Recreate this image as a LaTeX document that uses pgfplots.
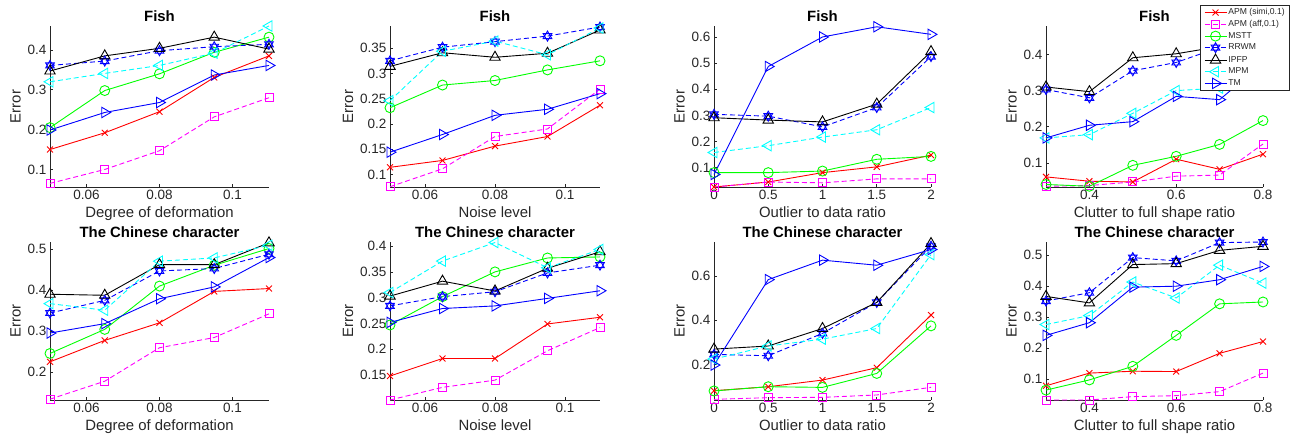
\documentclass[border=0pt]{standalone}
\usepackage{fontspec}
\setmainfont{Liberation Sans}
\usepackage{pgfplots}
\usepackage{pgfplotstable}
\pgfplotsset{compat=1.18}

\definecolor{mred}{rgb}{1,0,0}
\definecolor{mmag}{rgb}{1,0,1}
\definecolor{mgreen}{rgb}{0,1,0}
\definecolor{mblue}{rgb}{0,0,1}
\definecolor{mcyan}{rgb}{0,1,1}
\definecolor{axgray}{rgb}{0.15,0.15,0.15}

\pgfdeclareplotmark{hexagram}{%
  \pgfpathmoveto{\pgfpointpolar{90}{\pgfplotmarksize}}%
  \pgfpathlineto{\pgfpointpolar{210}{\pgfplotmarksize}}%
  \pgfpathlineto{\pgfpointpolar{330}{\pgfplotmarksize}}%
  \pgfpathclose
  \pgfpathmoveto{\pgfpointpolar{270}{\pgfplotmarksize}}%
  \pgfpathlineto{\pgfpointpolar{30}{\pgfplotmarksize}}%
  \pgfpathlineto{\pgfpointpolar{150}{\pgfplotmarksize}}%
  \pgfpathclose
  \pgfusepathqstroke
}

\pgfplotsset{
  myaxis/.style={
    scale only axis,
    axis x line=bottom, axis y line=left,
    axis line style={-, axgray, line width=0.6pt},
    tick align=inside, major tick length=3pt,
    tick style={axgray, line width=0.6pt},
    xticklabel style={font=\fontsize{13.5}{14}\selectfont, text=axgray},
    yticklabel style={font=\fontsize{13.5}{14}\selectfont, text=axgray},
    label style={font=\fontsize{14.9}{16}\selectfont, text=axgray},
    title style={font=\bfseries\fontsize{14.9}{16}\selectfont, text=black, yshift=-5pt},
    clip=false, scaled ticks=false,
    ylabel={Error},
  },
  apms/.style={color=mred, solid, line width=0.9pt, mark=x, mark size=4.2pt, mark options={solid}},
  apma/.style={color=mmag, dash pattern=on 5pt off 3pt, line width=0.9pt, mark=square, mark size=4pt, mark options={solid}},
  mstt/.style={color=mgreen, solid, line width=0.9pt, mark=o, mark size=5pt, mark options={solid}},
  rrwm/.style={color=mblue, dash pattern=on 5pt off 3pt, line width=0.9pt, mark=hexagram, mark size=5pt, mark options={solid}},
  ipfp/.style={color=black, solid, line width=0.9pt, mark=triangle, mark size=6pt, mark options={solid}},
  mpm/.style={color=mcyan, dash pattern=on 5pt off 3pt, line width=0.9pt, mark=triangle, mark size=6pt, mark options={solid, rotate=90}},
  tm/.style={color=mblue, solid, line width=0.9pt, mark=triangle, mark size=6pt, mark options={solid, rotate=-90}},
}

\newcommand\allseries[1]{%
  \addplot[apms] table[x=x,y=R]{#1};
  \addplot[apma] table[x=x,y=M]{#1};
  \addplot[mstt] table[x=x,y=G]{#1};
  \addplot[rrwm] table[x=x,y=S]{#1};
  \addplot[ipfp] table[x=x,y=K]{#1};
  \addplot[mpm] table[x=x,y=C]{#1};
  \addplot[tm] table[x=x,y=T]{#1};
}

% Fish, degree of deformation
\pgfplotstableread{
x     R      M      G      S      K      C      T
0.05  0.150  0.065  0.205  0.361  0.347  0.320  0.199
0.065 0.192  0.100  0.298  0.372  0.385  0.341  0.243
0.08  0.245  0.147  0.340  0.398  0.404  0.361  0.268
0.095 0.331  0.232  0.394  0.408  0.432  0.392  0.337
0.11  0.385  0.280  0.432  0.414  0.402  0.460  0.361
}\tA
% Fish, noise level
\pgfplotstableread{
x     R      M      G      S      K      C      T
0.05  0.114  0.0755 0.232  0.325  0.314  0.246  0.144
0.065 0.1276 0.111  0.277  0.352  0.341  0.344  0.179
0.08  0.156  0.175  0.286  0.363  0.332  0.364  0.217
0.095 0.175  0.190  0.307  0.374  0.340  0.337  0.229
0.11  0.237  0.269  0.325  0.392  0.386  0.390  0.260
}\tB
% Fish, outlier ratio
\pgfplotstableread{
x     R      M      G      S      K      C      T
0     0.026  0.026  0.081  0.304  0.291  0.158  0.074
0.5   0.045  0.045  0.081  0.297  0.282  0.184  0.487
1     0.081  0.042  0.087  0.256  0.275  0.217  0.600
1.5   0.103  0.057  0.132  0.330  0.343  0.245  0.639
2     0.148  0.057  0.143  0.525  0.544  0.330  0.610
}\tC
% Fish, clutter ratio
\pgfplotstableread{
x     R      M      G      S      K      C      T
0.3   0.061  0.035  0.040  0.303  0.310  0.169  0.169
0.4   0.049  0.037  0.035  0.280  0.297  0.178  0.204
0.5   0.047  0.047  0.093  0.355  0.391  0.237  0.214
0.6   0.110  0.063  0.118  0.378  0.402  0.300  0.284
0.7   0.082  0.066  0.151  0.420  0.422  0.307  0.275
0.8   0.124  0.152  0.217  0.460  0.470  0.340  0.375
}\tD
% Chinese, deformation
\pgfplotstableread{
x     R      M      G      S      K      C      T
0.05  0.2245 0.133  0.245  0.344  0.390  0.367  0.295
0.065 0.277  0.177  0.304  0.375  0.3875 0.351  0.318
0.08  0.320  0.259  0.410  0.447  0.4625 0.471  0.379
0.095 0.397  0.284  0.461  0.453  0.4625 0.479  0.408
0.11  0.404  0.342  0.502  0.488  0.516  0.510  0.480
}\tE
% Chinese, noise
\pgfplotstableread{
x     R      M      G      S      K      C      T
0.05  0.148  0.1015 0.247  0.284  0.303  0.310  0.252
0.065 0.182  0.126  0.302  0.302  0.332  0.371  0.279
0.08  0.182  0.140  0.350  0.3115 0.313  0.407  0.284
0.095 0.249  0.197  0.377  0.348  0.357  0.358  0.2986
0.11  0.262  0.242  0.379  0.363  0.389  0.3935 0.3134
}\tF
% Chinese, outlier
\pgfplotstableread{
x     R      M      G      S      K      C      T
0     0.081  0.042  0.080  0.245  0.269  0.224  0.197
0.5   0.099  0.0496 0.099  0.239  0.283  0.283  0.583
1     0.129  0.051  0.096  0.340  0.362  0.314  0.671
1.5   0.185  0.0617 0.159  0.480  0.480  0.362  0.648
2     0.4226 0.0962 0.374  0.734  0.746  0.696  0.719
}\tG
% Chinese, clutter
\pgfplotstableread{
x     R      M      G      S      K      C      T
0.3   0.078  0.032  0.064  0.352  0.367  0.276  0.241
0.4   0.119  0.032  0.097  0.379  0.346  0.305  0.282
0.5   0.125  0.043  0.141  0.4925 0.470  0.4135 0.397
0.6   0.124  0.046  0.241  0.482  0.473  0.362  0.400
0.7   0.183  0.059  0.343  0.541  0.516  0.468  0.421
0.8   0.221  0.119  0.349  0.543  0.529  0.410  0.464
}\tH

\begin{document}
\begin{tikzpicture}
\path[use as bounding box] (0pt,0pt) rectangle (1294pt,441pt);

% ---- Row 1 ----
\begin{axis}[myaxis, at={(50pt,254pt)}, anchor=south west, width=219pt, height=161pt,
  title={Fish}, xlabel={Degree of deformation},
  xmin=0.05, xmax=0.11, ymin=0.056, ymax=0.46,
  xtick={0.06,0.08,0.1}, xticklabels={0.06,0.08,0.1},
  ytick={0.1,0.2,0.3,0.4}, yticklabels={0.1,0.2,0.3,0.4}]
\allseries{\tA}
\end{axis}

\begin{axis}[myaxis, at={(390pt,254pt)}, anchor=south west, width=210pt, height=161pt,
  title={Fish}, xlabel={Noise level},
  xmin=0.05, xmax=0.11, ymin=0.075, ymax=0.394,
  xtick={0.06,0.08,0.1}, xticklabels={0.06,0.08,0.1},
  ytick={0.1,0.15,0.2,0.25,0.3,0.35}, yticklabels={0.1,0.15,0.2,0.25,0.3,0.35}]
\allseries{\tB}
\end{axis}

\begin{axis}[myaxis, at={(714pt,254pt)}, anchor=south west, width=217pt, height=161pt,
  title={Fish}, xlabel={Outlier to data ratio},
  xmin=0, xmax=2, ymin=0.026, ymax=0.642,
  xtick={0,0.5,1,1.5,2}, xticklabels={0,0.5,1,1.5,2},
  ytick={0.1,0.2,0.3,0.4,0.5,0.6}, yticklabels={0.1,0.2,0.3,0.4,0.5,0.6}]
\allseries{\tC}
\end{axis}

\begin{axis}[myaxis, at={(1046pt,254pt)}, anchor=south west, width=217pt, height=161pt,
  title={Fish}, xlabel={Clutter to full shape ratio},
  xmin=0.3, xmax=0.8, ymin=0.033, ymax=0.479,
  xtick={0.4,0.6,0.8}, xticklabels={0.4,0.6,0.8},
  ytick={0.1,0.2,0.3,0.4}, yticklabels={0.1,0.2,0.3,0.4},
  legend cell align=left,
  legend style={at={(1.124,1.13)}, anchor=north east, draw=axgray, line width=0.5pt,
    fill=white, font=\fontsize{8.6}{9.5}\selectfont, inner xsep=3.5pt, inner ysep=2pt, row sep=1.3pt,
    nodes={inner sep=1.4pt, text=axgray}},
  legend image code/.code={\draw[mark repeat=2,mark phase=2,#1] plot coordinates {(0pt,0pt) (11pt,0pt) (22pt,0pt)};}]
\allseries{\tD}
\legend{{APM (simi,0.1)},{APM (aff,0.1)},MSTT,RRWM,IPFP,MPM,TM}
\end{axis}

% ---- Row 2 ----
\begin{axis}[myaxis, at={(50pt,41pt)}, anchor=south west, width=219pt, height=158pt,
  title={The Chinese character}, xlabel={Degree of deformation},
  xmin=0.05, xmax=0.11, ymin=0.131, ymax=0.518,
  xtick={0.06,0.08,0.1}, xticklabels={0.06,0.08,0.1},
  ytick={0.2,0.3,0.4,0.5}, yticklabels={0.2,0.3,0.4,0.5}]
\allseries{\tE}
\end{axis}

\begin{axis}[myaxis, at={(390pt,41pt)}, anchor=south west, width=210pt, height=158pt,
  title={The Chinese character}, xlabel={Noise level},
  xmin=0.05, xmax=0.11, ymin=0.1015, ymax=0.408,
  xtick={0.06,0.08,0.1}, xticklabels={0.06,0.08,0.1},
  ytick={0.15,0.2,0.25,0.3,0.35,0.4}, yticklabels={0.15,0.2,0.25,0.3,0.35,0.4}]
\allseries{\tF}
\end{axis}

\begin{axis}[myaxis, at={(714pt,41pt)}, anchor=south west, width=217pt, height=158pt,
  title={The Chinese character}, xlabel={Outlier to data ratio},
  xmin=0, xmax=2, ymin=0.039, ymax=0.753,
  xtick={0,0.5,1,1.5,2}, xticklabels={0,0.5,1,1.5,2},
  ytick={0.2,0.4,0.6}, yticklabels={0.2,0.4,0.6}]
\allseries{\tG}
\end{axis}

\begin{axis}[myaxis, at={(1046pt,41pt)}, anchor=south west, width=217pt, height=158pt,
  title={The Chinese character}, xlabel={Clutter to full shape ratio},
  xmin=0.3, xmax=0.8, ymin=0.032, ymax=0.543,
  xtick={0.4,0.6,0.8}, xticklabels={0.4,0.6,0.8},
  ytick={0.1,0.2,0.3,0.4,0.5}, yticklabels={0.1,0.2,0.3,0.4,0.5}]
\allseries{\tH}
\end{axis}
\end{tikzpicture}
\end{document}
